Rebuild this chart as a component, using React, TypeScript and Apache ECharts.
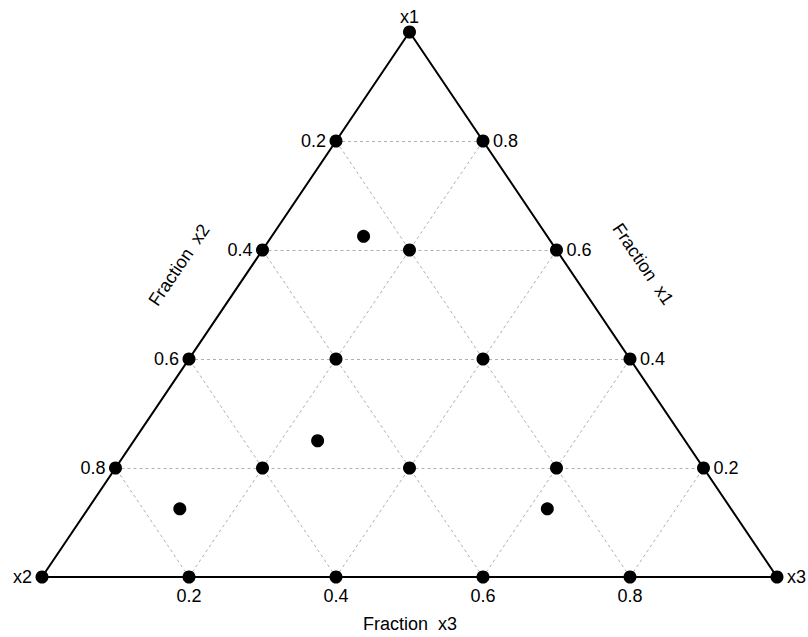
import React, { useEffect, useRef } from 'react';
import * as echarts from 'echarts';

// Mixture design on the simplex, each point given as [x1, x2, x3]
const TICKS = [0.2, 0.4, 0.6, 0.8];
const VERTEX_NAMES = ['x1', 'x2', 'x3'];
const VERTICES = [
  [1, 0, 0],
  [0, 1, 0],
  [0, 0, 1],
];
const LATTICE_POINTS = [
  [1, 0, 0], [0, 1, 0], [0, 0, 1],
  [0.8, 0.2, 0], [0.6, 0.4, 0], [0.4, 0.6, 0], [0.2, 0.8, 0],
  [0.8, 0, 0.2], [0.6, 0, 0.4], [0.4, 0, 0.6], [0.2, 0, 0.8],
  [0, 0.8, 0.2], [0, 0.6, 0.4], [0, 0.4, 0.6], [0, 0.2, 0.8],
  [0.6, 0.2, 0.2], [0.4, 0.4, 0.2], [0.4, 0.2, 0.4],
  [0.2, 0.6, 0.2], [0.2, 0.4, 0.4], [0.2, 0.2, 0.6],
];
const CHECK_POINTS = [
  [0.625, 0.25, 0.125],
  [0.25, 0.5, 0.25],
  [0.125, 0.75, 0.125],
  [0.125, 0.25, 0.625],
];
const AXIS_TITLES = ['Fraction  x1', 'Fraction  x2', 'Fraction  x3'];

const FONT = '"Liberation Sans", Arial, sans-serif';
const TEXT_COLOR = '#000';

// barycentric -> planar coordinates (x1 at the apex, x2 bottom-left, x3 bottom-right)
const toXY = (p: number[]): [number, number] => [p[2] + p[0] / 2, p[0]];

export default function App() {
  const ref = useRef<HTMLDivElement>(null);

  useEffect(() => {
    if (!ref.current) return;
    const chart = echarts.init(ref.current, null, { renderer: 'svg' });

    // dotted reference lines at each tick level, for all three components
    const gridLines: { coords: [number, number][] }[] = [];
    TICKS.forEach((v) => {
      gridLines.push({ coords: [toXY([v, 1 - v, 0]), toXY([v, 0, 1 - v])] });
      gridLines.push({ coords: [toXY([0, v, 1 - v]), toXY([1 - v, v, 0])] });
      gridLines.push({ coords: [toXY([0, 1 - v, v]), toXY([1 - v, 0, v])] });
    });

    const outline = [...VERTICES, VERTICES[0]].map(toXY);

    const labelBase = {
      show: true,
      color: TEXT_COLOR,
      opacity: 1,
      fontFamily: FONT,
      fontSize: 18,
    };

    const textSeries = (data: any[], position: string, distance: number, fmt: (p: any) => string) => ({
      type: 'scatter',
      symbolSize: 0,
      silent: true,
      z: 5,
      itemStyle: { opacity: 1 },
      data,
      label: { ...labelBase, position, distance, formatter: fmt },
    });

    const tickFmt = (p: any) => String(p.value[2]);

    chart.setOption({
      animation: false,
      backgroundColor: '#fff',
      grid: { left: 42, top: 32, width: 735, height: 545 },
      xAxis: { type: 'value', min: 0, max: 1, show: false },
      yAxis: { type: 'value', min: 0, max: 1, show: false },
      series: [
        {
          type: 'lines',
          coordinateSystem: 'cartesian2d',
          silent: true,
          z: 1,
          lineStyle: { color: '#b0b0b0', width: 1, type: [3, 3], opacity: 1 },
          data: gridLines,
        },
        {
          type: 'line',
          symbol: 'none',
          silent: true,
          z: 2,
          lineStyle: { color: '#000', width: 2 },
          data: outline,
        },
        {
          type: 'scatter',
          symbol: 'circle',
          symbolSize: 13,
          z: 3,
          itemStyle: { color: '#000', opacity: 1 },
          data: [...LATTICE_POINTS, ...CHECK_POINTS].map(toXY),
        },
        // x2 tick labels along the left edge
        textSeries(TICKS.map((v) => [...toXY([1 - v, v, 0]), v]), 'left', 10, tickFmt),
        // x1 tick labels along the right edge
        textSeries(TICKS.map((v) => [...toXY([v, 0, 1 - v]), v]), 'right', 10, tickFmt),
        // x3 tick labels along the base
        textSeries(TICKS.map((v) => [...toXY([0, 1 - v, v]), v]), 'bottom', 10, tickFmt),
        // vertex names
        textSeries([[...toXY(VERTICES[0]), 0]], 'top', 6, () => VERTEX_NAMES[0]),
        textSeries([[...toXY(VERTICES[1]), 1]], 'left', 10, () => VERTEX_NAMES[1]),
        textSeries([[...toXY(VERTICES[2]), 2]], 'right', 10, () => VERTEX_NAMES[2]),
      ],
      graphic: [
        {
          type: 'text',
          x: 643,
          y: 264,
          rotation: (-56 * Math.PI) / 180,
          style: { text: AXIS_TITLES[0], font: `18px ${FONT}`, fill: TEXT_COLOR, align: 'center', verticalAlign: 'middle' },
        },
        {
          type: 'text',
          x: 179,
          y: 265,
          rotation: (56 * Math.PI) / 180,
          style: { text: AXIS_TITLES[1], font: `18px ${FONT}`, fill: TEXT_COLOR, align: 'center', verticalAlign: 'middle' },
        },
        {
          type: 'text',
          x: 410,
          y: 624,
          style: { text: AXIS_TITLES[2], font: `18px ${FONT}`, fill: TEXT_COLOR, align: 'center', verticalAlign: 'middle' },
        },
      ],
    });

    return () => chart.dispose();
  }, []);

  return (
    <div
      ref={ref}
      style={{ position: 'fixed', left: 0, top: 0, width: 808, height: 637 }}
    />
  );
}
